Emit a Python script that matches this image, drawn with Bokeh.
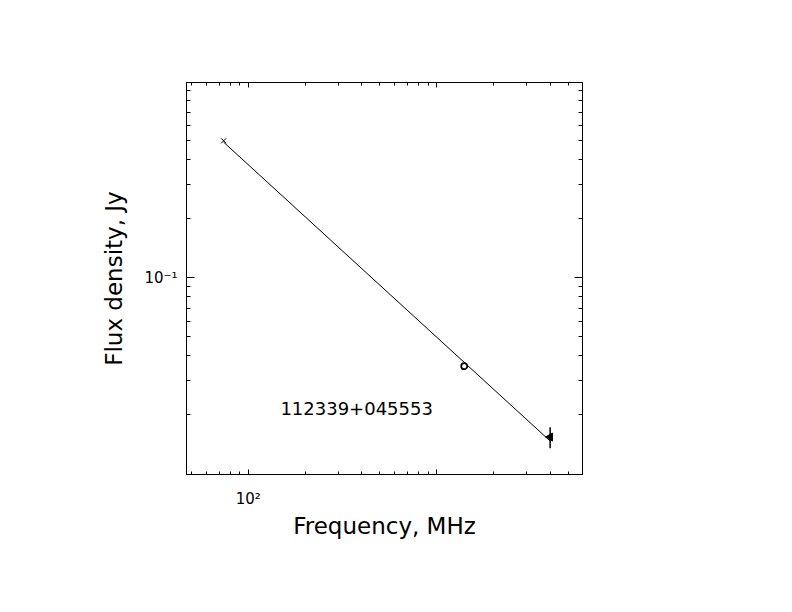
from bokeh.plotting import figure
from bokeh.models import Range1d, LogAxis, FixedTicker, CustomJSTickFormatter, Label
from bokeh.embed import file_html
from bokeh.resources import INLINE

# measured points (MHz, Jy)
vlss_freq = [74]
vlss_flux = [0.50]
nvss_freq = [1400]
nvss_flux = [0.0354]
hi_freq = [4000]
hi_flux = [0.0154]
hi_err = [0.0019]

# power-law fit, end points
fit_freq = [74, 4000]
fit_flux = [0.492, 0.0147]

source_name = "112339+045553"

# ticks
x_major = [100, 1000]
x_minor = [m * d for d in (10, 100, 1000) for m in range(2, 10) if 47 < m * d < 5900]
y_major = [0.1]
y_minor = [m * d for d in (0.01, 0.1) for m in range(2, 10)]

FONT = "DejaVu Sans"

p = figure(width=776, height=596, x_axis_type="log", y_axis_type="log",
           x_range=Range1d(47.0, 5940), y_range=Range1d(0.00992, 0.992),
           output_backend="svg", toolbar_location=None,
           min_border_left=186, min_border_right=194,
           min_border_top=82, min_border_bottom=122)
p.grid.visible = False
p.outline_line_color = "black"
p.background_fill_color = "white"
p.border_fill_color = "white"

# mirrored axes on top and right, no labels
p.add_layout(LogAxis(), "above")
p.add_layout(LogAxis(), "right")

blank = CustomJSTickFormatter(code="return '';")
for ax in p.xaxis:
    ax.ticker = FixedTicker(ticks=x_major, minor_ticks=x_minor)
    ax.major_tick_in = 5
    ax.major_tick_out = 0
    ax.minor_tick_in = 3
    ax.minor_tick_out = 0
    ax.axis_line_color = "black"
    ax.major_tick_line_color = "black"
    ax.minor_tick_line_color = "black"
    ax.formatter = blank
for ax in p.yaxis:
    ax.ticker = FixedTicker(ticks=y_major, minor_ticks=y_minor)
    ax.major_tick_in = 8
    ax.major_tick_out = 0
    ax.minor_tick_in = 4
    ax.minor_tick_out = 0
    ax.axis_line_color = "black"
    ax.major_tick_line_color = "black"
    ax.minor_tick_line_color = "black"
    ax.formatter = blank

xa = p.below[0]
xa.formatter = CustomJSTickFormatter(code="return tick == 100 ? '10\u00b2' : '';")
xa.major_label_text_font = FONT
xa.major_label_text_font_size = "15px"
xa.major_label_text_color = "black"
xa.major_label_standoff = 15
xa.axis_label = "Frequency, MHz"
xa.axis_label_text_font = FONT
xa.axis_label_text_font_size = "23px"
xa.axis_label_text_font_style = "normal"
xa.axis_label_text_color = "black"
xa.axis_label_standoff = 2

ya = p.left[0]
ya.formatter = CustomJSTickFormatter(code="return Math.abs(tick - 0.1) < 1e-9 ? '10\u207b\u00b9' : '';")
ya.major_label_text_font = FONT
ya.major_label_text_font_size = "15px"
ya.major_label_text_color = "black"
ya.major_label_standoff = 9
ya.axis_label = "Flux density, Jy"
ya.axis_label_text_font = FONT
ya.axis_label_text_font_size = "23px"
ya.axis_label_text_font_style = "normal"
ya.axis_label_text_color = "black"
ya.axis_label_standoff = 14

# fit line
p.line(fit_freq, fit_flux, line_color="black", line_width=1)

# data points
p.scatter(vlss_freq, vlss_flux, marker="x", size=7, line_color="black", line_width=1)
p.scatter(nvss_freq, nvss_flux, marker="circle", size=6, line_color="black",
          fill_color="white", line_width=1.8)
lo = [f - e for f, e in zip(hi_flux, hi_err)]
up = [f + e for f, e in zip(hi_flux, hi_err)]
p.segment(x0=hi_freq, y0=lo, x1=hi_freq, y1=up, line_color="black", line_width=1.5)
p.scatter(hi_freq, hi_flux, marker="triangle", angle=1.5708, size=8,
          line_color="black", fill_color="black")

p.add_layout(Label(x=376, y=0.0215, text=source_name, text_align="center",
                   text_baseline="alphabetic", text_font=FONT,
                   text_font_size="18px", text_color="black"))

open("out.html", "w").write(file_html(p, INLINE))
